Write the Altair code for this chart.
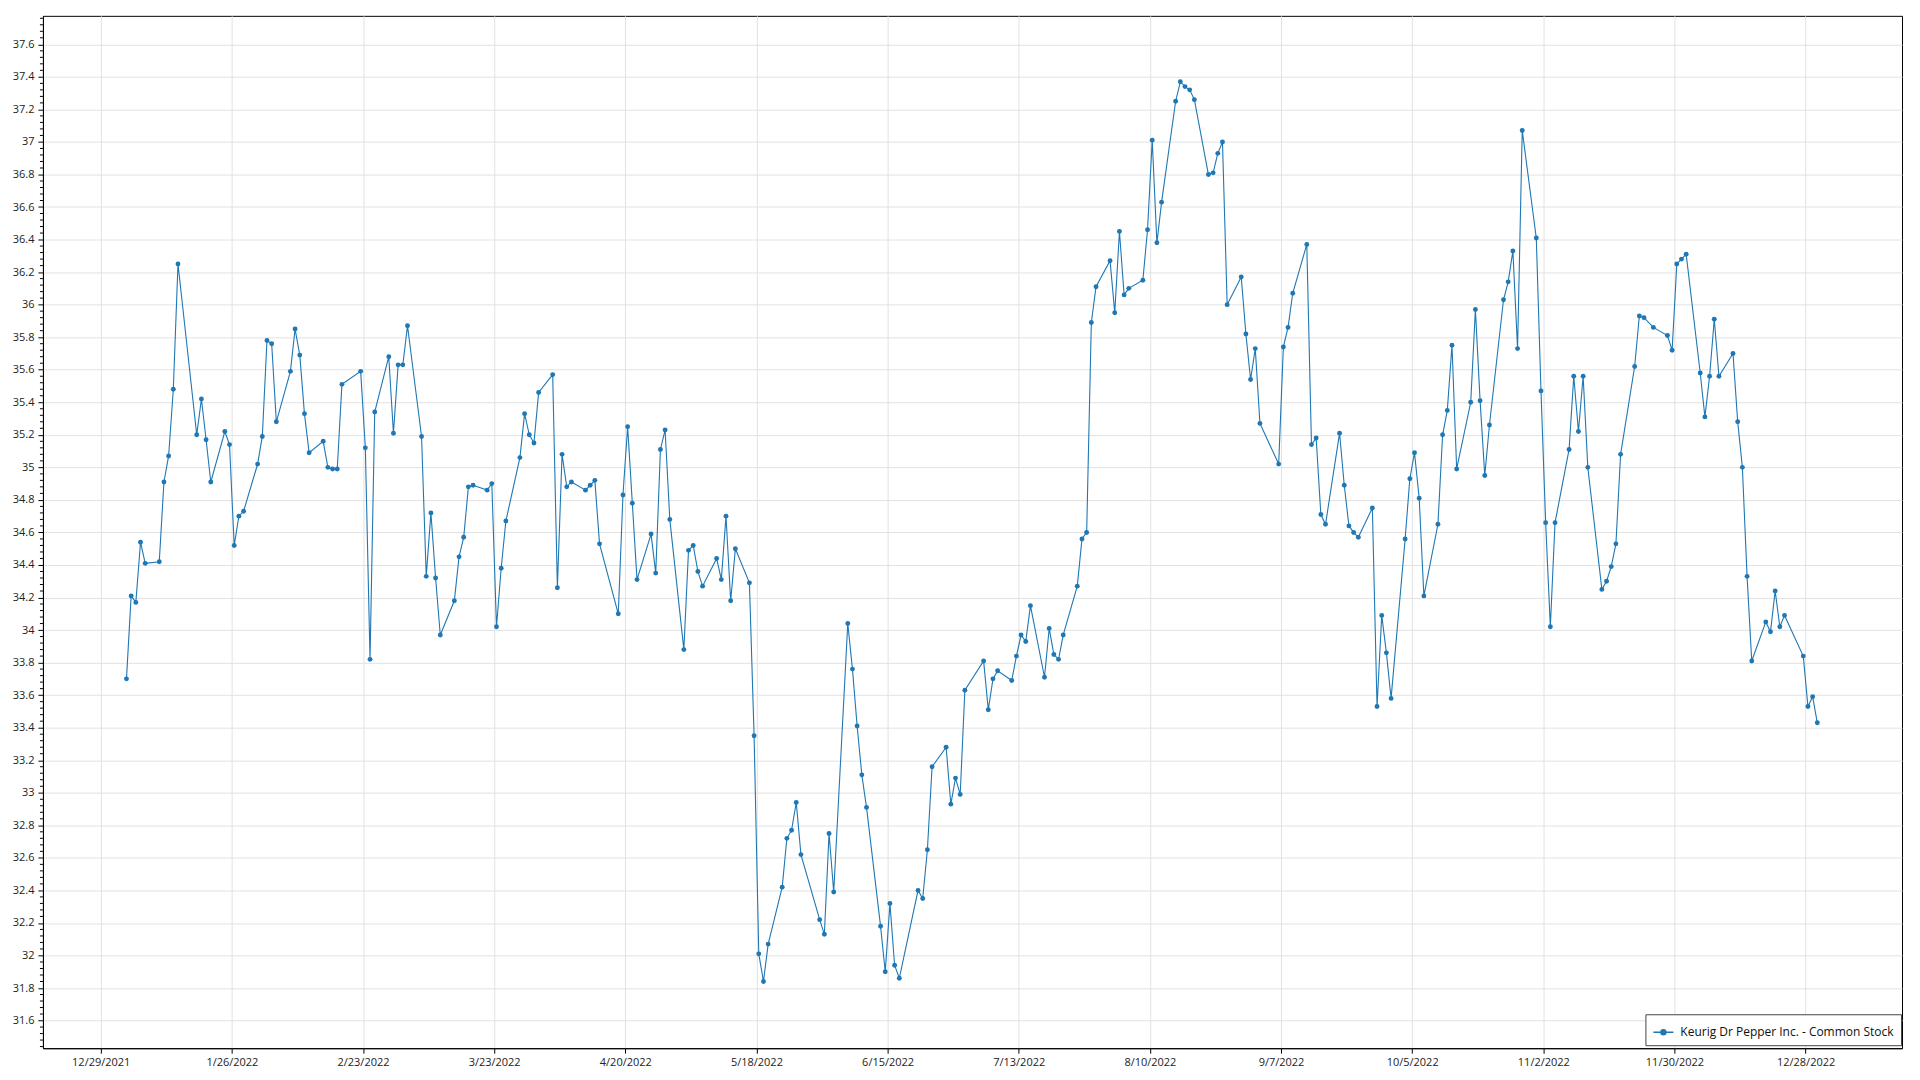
import altair as alt
import pandas as pd

series_name = "Keurig Dr Pepper Inc. - Common Stock"

trade_dates = [
    # Jan
    "2022-01-03", "2022-01-04", "2022-01-05", "2022-01-06", "2022-01-07", "2022-01-10", "2022-01-11",
    "2022-01-12", "2022-01-13", "2022-01-14", "2022-01-18", "2022-01-19", "2022-01-20", "2022-01-21",
    "2022-01-24", "2022-01-25", "2022-01-26", "2022-01-27", "2022-01-28", "2022-01-31",
    # Feb
    "2022-02-01", "2022-02-02", "2022-02-03", "2022-02-04", "2022-02-07", "2022-02-08", "2022-02-09",
    "2022-02-10", "2022-02-11", "2022-02-14", "2022-02-15", "2022-02-16", "2022-02-17", "2022-02-18",
    "2022-02-22", "2022-02-23", "2022-02-24", "2022-02-25", "2022-02-28",
    # Mar
    "2022-03-01", "2022-03-02", "2022-03-03", "2022-03-04", "2022-03-07", "2022-03-08", "2022-03-09",
    "2022-03-10", "2022-03-11", "2022-03-14", "2022-03-15", "2022-03-16", "2022-03-17", "2022-03-18",
    "2022-03-21", "2022-03-22", "2022-03-23", "2022-03-24", "2022-03-25", "2022-03-28", "2022-03-29",
    "2022-03-30", "2022-03-31",
    # Apr
    "2022-04-01", "2022-04-04", "2022-04-05", "2022-04-06", "2022-04-07", "2022-04-08", "2022-04-11",
    "2022-04-12", "2022-04-13", "2022-04-14", "2022-04-18", "2022-04-19", "2022-04-20", "2022-04-21",
    "2022-04-22", "2022-04-25", "2022-04-26", "2022-04-27", "2022-04-28", "2022-04-29",
    # May
    "2022-05-02", "2022-05-03", "2022-05-04", "2022-05-05", "2022-05-06", "2022-05-09", "2022-05-10",
    "2022-05-11", "2022-05-12", "2022-05-13", "2022-05-16", "2022-05-17", "2022-05-18", "2022-05-19",
    "2022-05-20", "2022-05-23", "2022-05-24", "2022-05-25", "2022-05-26", "2022-05-27", "2022-05-31",
    # Jun
    "2022-06-01", "2022-06-02", "2022-06-03", "2022-06-06", "2022-06-07", "2022-06-08", "2022-06-09",
    "2022-06-10", "2022-06-13", "2022-06-14", "2022-06-15", "2022-06-16", "2022-06-17", "2022-06-21",
    "2022-06-22", "2022-06-23", "2022-06-24", "2022-06-27", "2022-06-28", "2022-06-29", "2022-06-30",
    # Jul
    "2022-07-01", "2022-07-05", "2022-07-06", "2022-07-07", "2022-07-08", "2022-07-11", "2022-07-12",
    "2022-07-13", "2022-07-14", "2022-07-15", "2022-07-18", "2022-07-19", "2022-07-20", "2022-07-21",
    "2022-07-22", "2022-07-25", "2022-07-26", "2022-07-27", "2022-07-28", "2022-07-29",
    # Aug
    "2022-08-01", "2022-08-02", "2022-08-03", "2022-08-04", "2022-08-05", "2022-08-08", "2022-08-09",
    "2022-08-10", "2022-08-11", "2022-08-12", "2022-08-15", "2022-08-16", "2022-08-17", "2022-08-18",
    "2022-08-19", "2022-08-22", "2022-08-23", "2022-08-24", "2022-08-25", "2022-08-26", "2022-08-29",
    "2022-08-30", "2022-08-31",
    # Sep
    "2022-09-01", "2022-09-02", "2022-09-06", "2022-09-07", "2022-09-08", "2022-09-09", "2022-09-12",
    "2022-09-13", "2022-09-14", "2022-09-15", "2022-09-16", "2022-09-19", "2022-09-20", "2022-09-21",
    "2022-09-22", "2022-09-23", "2022-09-26", "2022-09-27", "2022-09-28", "2022-09-29", "2022-09-30",
    # Oct
    "2022-10-03", "2022-10-04", "2022-10-05", "2022-10-06", "2022-10-07", "2022-10-10", "2022-10-11",
    "2022-10-12", "2022-10-13", "2022-10-14", "2022-10-17", "2022-10-18", "2022-10-19", "2022-10-20",
    "2022-10-21", "2022-10-24", "2022-10-25", "2022-10-26", "2022-10-27", "2022-10-28", "2022-10-31",
    # Nov
    "2022-11-01", "2022-11-02", "2022-11-03", "2022-11-04", "2022-11-07", "2022-11-08", "2022-11-09",
    "2022-11-10", "2022-11-11", "2022-11-14", "2022-11-15", "2022-11-16", "2022-11-17", "2022-11-18",
    "2022-11-21", "2022-11-22", "2022-11-23", "2022-11-25", "2022-11-28", "2022-11-29", "2022-11-30",
    # Dec
    "2022-12-01", "2022-12-02", "2022-12-05", "2022-12-06", "2022-12-07", "2022-12-08", "2022-12-09",
    "2022-12-12", "2022-12-13", "2022-12-14", "2022-12-15", "2022-12-16", "2022-12-19", "2022-12-20",
    "2022-12-21", "2022-12-22", "2022-12-23", "2022-12-27", "2022-12-28", "2022-12-29", "2022-12-30",
]

close_prices = [
    # Jan
    33.70, 34.21, 34.17, 34.54, 34.41, 34.42, 34.91, 35.07, 35.48, 36.25, 35.20, 35.42, 35.17, 34.91,
    35.22, 35.14, 34.52, 34.70, 34.73, 35.02,
    # Feb
    35.19, 35.78, 35.76, 35.28, 35.59, 35.85, 35.69, 35.33, 35.09, 35.16, 35.00, 34.99, 34.99, 35.51,
    35.59, 35.12, 33.82, 35.34, 35.68,
    # Mar
    35.21, 35.63, 35.63, 35.87, 35.19, 34.33, 34.72, 34.32, 33.97, 34.18, 34.45, 34.57, 34.88, 34.89,
    34.86, 34.90, 34.02, 34.38, 34.67, 35.06, 35.33, 35.20, 35.15,
    # Apr
    35.46, 35.57, 34.26, 35.08, 34.88, 34.91, 34.86, 34.89, 34.92, 34.53, 34.10, 34.83, 35.25, 34.78,
    34.31, 34.59, 34.35, 35.11, 35.23, 34.68,
    # May
    33.88, 34.49, 34.52, 34.36, 34.27, 34.44, 34.31, 34.70, 34.18, 34.50, 34.29, 33.35, 32.01, 31.84,
    32.07, 32.42, 32.72, 32.77, 32.94, 32.62, 32.22,
    # Jun
    32.13, 32.75, 32.39, 34.04, 33.76, 33.41, 33.11, 32.91, 32.18, 31.90, 32.32, 31.94, 31.86, 32.40,
    32.35, 32.65, 33.16, 33.28, 32.93, 33.09, 32.99,
    # Jul
    33.63, 33.81, 33.51, 33.70, 33.75, 33.69, 33.84, 33.97, 33.93, 34.15, 33.71, 34.01, 33.85, 33.82,
    33.97, 34.27, 34.56, 34.60, 35.89, 36.11,
    # Aug
    36.27, 35.95, 36.45, 36.06, 36.10, 36.15, 36.46, 37.01, 36.38, 36.63, 37.25, 37.37, 37.34, 37.32,
    37.26, 36.80, 36.81, 36.93, 37.00, 36.00, 36.17, 35.82, 35.54,
    # Sep
    35.73, 35.27, 35.02, 35.74, 35.86, 36.07, 36.37, 35.14, 35.18, 34.71, 34.65, 35.21, 34.89, 34.64,
    34.60, 34.57, 34.75, 33.53, 34.09, 33.86, 33.58,
    # Oct
    34.56, 34.93, 35.09, 34.81, 34.21, 34.65, 35.20, 35.35, 35.75, 34.99, 35.40, 35.97, 35.41, 34.95,
    35.26, 36.03, 36.14, 36.33, 35.73, 37.07, 36.41,
    # Nov
    35.47, 34.66, 34.02, 34.66, 35.11, 35.56, 35.22, 35.56, 35.00, 34.25, 34.30, 34.39, 34.53, 35.08,
    35.62, 35.93, 35.92, 35.86, 35.81, 35.72, 36.25,
    # Dec
    36.28, 36.31, 35.58, 35.31, 35.56, 35.91, 35.56, 35.70, 35.28, 35.00, 34.33, 33.81, 34.05, 33.99,
    34.24, 34.02, 34.09, 33.84, 33.53, 33.59, 33.43,
]

x_tick_dates = [
    "2021-12-29", "2022-01-26", "2022-02-23", "2022-03-23", "2022-04-20", "2022-05-18", "2022-06-15",
    "2022-07-13", "2022-08-10", "2022-09-07", "2022-10-05", "2022-11-02", "2022-11-30", "2022-12-28",
]

y_ticks = [31.6, 31.8, 32.0, 32.2, 32.4, 32.6, 32.8, 33.0, 33.2, 33.4, 33.6, 33.8, 34.0, 34.2, 34.4,
           34.6, 34.8, 35.0, 35.2, 35.4, 35.6, 35.8, 36.0, 36.2, 36.4, 36.6, 36.8, 37.0, 37.2, 37.4, 37.6]
y_minor_step = 0.04
y_domain = [31.43, 37.775]

LINE_COLOR = "#1f77b4"
FONT = "Open Sans"


def to_dt(s, hours=0):
    y, m, d = (int(p) for p in s.split("-"))
    return alt.DateTime(year=y, month=m, date=d, hours=hours, utc=True)


df = pd.DataFrame({
    "date": [d + "T12:00:00Z" for d in trade_dates],
    "close": close_prices,
    "series": [series_name] * len(trade_dates),
})

minor_vals = []
v = y_ticks[0] - 4 * y_minor_step
while v <= y_domain[1]:
    if v >= y_domain[0] and all(abs(v - t) > 1e-6 for t in y_ticks):
        minor_vals.append(round(v, 2))
    v += y_minor_step
minor_df = pd.DataFrame({"close": minor_vals})

x_scale = alt.Scale(type="utc", domain=[to_dt("2021-12-16", 16), to_dt("2023-01-17", 14)])
y_scale = alt.Scale(domain=y_domain, nice=False, zero=False)

y_axis = alt.Axis(
    values=y_ticks,
    format=".1~f",
    title=None,
    grid=True,
    tickSize=5,
    labelPadding=4,
    labelOverlap=False,
    labelFlush=False,
)

legend_symbol = "M-1,0L1,0M-0.26,0a0.26,0.26 0 1,0 0.52,0a0.26,0.26 0 1,0 -0.52,0"

base = alt.Chart(df).encode(
    x=alt.X(
        "date:T",
        scale=x_scale,
        axis=alt.Axis(
            values=[to_dt(d) for d in x_tick_dates],
            labelExpr="utcFormat(datum.value, '%-m/%-d/%Y')",
            title=None,
            grid=True,
            tickSize=5,
            labelPadding=3,
            labelFlush=False,
            labelOverlap=False,
        ),
    ),
    y=alt.Y("close:Q", scale=y_scale, axis=y_axis),
    color=alt.Color(
        "series:N",
        scale=alt.Scale(range=[LINE_COLOR]),
        legend=alt.Legend(
            title=None,
            orient="none",
            legendX=1605,
            legendY=1000,
            strokeColor="#444444",
            fillColor="white",
            padding=7,
            symbolType=legend_symbol,
            symbolSize=400,
            symbolStrokeWidth=1.3,
            symbolFillColor=LINE_COLOR,
            symbolStrokeColor=LINE_COLOR,
            labelFont=FONT,
            labelFontSize=12,
            labelColor="#111111",
            labelOffset=6,
            labelLimit=0,
        ),
    ),
)

line = base.mark_line(strokeWidth=1.1)
points = base.mark_point(filled=True, size=24, opacity=1)

minor_ticks = alt.Chart(minor_df).mark_rule(color="black", strokeWidth=1).encode(
    y=alt.Y("close:Q", scale=y_scale, axis=y_axis),
    x=alt.value(-3),
    x2=alt.value(0),
)

chart = alt.layer(line, points, minor_ticks).properties(
    width=1862,
    height=1034,
    autosize=alt.AutoSizeParams(type="none"),
    padding={"left": 35, "top": 7, "right": 10, "bottom": 40},
    background="white",
).configure_view(
    stroke="black",
    strokeWidth=1,
).configure_axis(
    domainColor="black",
    domainWidth=1,
    tickColor="black",
    gridColor="#e2e2e2",
    gridWidth=1,
    labelFont=FONT,
    labelFontSize=11,
    labelColor="#222222",
)

chart.save("out.html", embed_options={"renderer": "svg", "actions": False})
